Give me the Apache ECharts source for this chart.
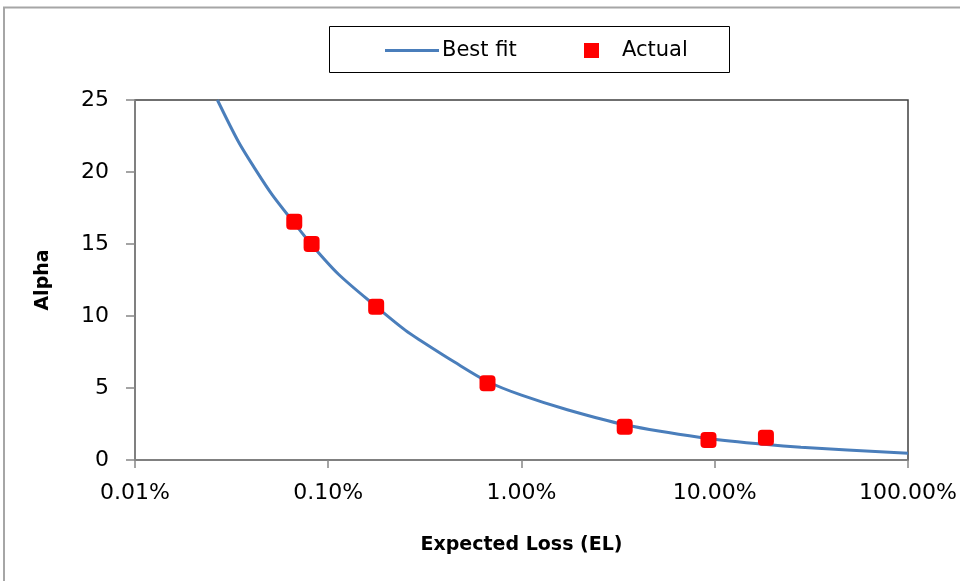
<!DOCTYPE html>
<html>
<head>
<meta charset="utf-8">
<script src="https://cdn.jsdelivr.net/npm/echarts@6/dist/echarts.min.js"></script>
<style>
html,body{margin:0;padding:0;background:#fff;}
#chart{width:960px;height:581px;}
</style>
</head>
<body>
<div id="chart"></div>
<script>
// Best-fit curve
var fitEL    = [0.000267, 0.000343, 0.000419, 0.000511, 0.000667, 0.00082, 0.00113, 0.00179, 0.00251, 0.003, 0.0045, 0.00667, 0.01, 0.01726, 0.0342, 0.0845, 0.18, 0.279, 1.0];
var fitAlpha = [25, 22.1, 20.2, 18.45, 16.45, 14.95, 12.9, 10.6, 9.0, 8.3, 6.8, 5.45, 4.5, 3.49, 2.45, 1.57, 1.09, 0.88, 0.47];
// Actual observations
var actualEL    = [0.000667, 0.00082, 0.00177, 0.00667, 0.0342, 0.0928, 0.184];
var actualAlpha = [16.55, 15.0, 10.65, 5.33, 2.31, 1.39, 1.55];
// Tick labels
var xTickLabels = ['0.01%', '0.10%', '1.00%', '10.00%', '100.00%'];
var yTickLabels = ['0', '5', '10', '15', '20', '25'];
var seriesNames = ['Best fit', 'Actual'];

var FONT = '"DejaVu Sans", "Liberation Sans", sans-serif';

function pairs(xs, ys) { return xs.map(function (x, i) { return [x, ys[i]]; }); }

var chart = echarts.init(document.getElementById('chart'), null, {renderer: 'canvas'});
chart.setOption({
  backgroundColor: '#ffffff',
  animation: false,
  graphic: [
    { type: 'polyline', shape: { points: [[4, 600], [4, 7.5], [960, 7.5]] },
      style: { fill: 'none', stroke: '#a6a6a6', lineWidth: 2 }, z: -1 },
    { type: 'rect', left: 329, top: 26, shape: { width: 400, height: 46 },
      style: { fill: '#fff', stroke: '#000', lineWidth: 1 }, z: 0 }
  ],
  legend: [
    { data: [{ name: seriesNames[0], icon: 'rect' }], left: 380, top: 35, itemWidth: 54, itemHeight: 3, itemGap: 0,
      textStyle: { fontFamily: FONT, fontSize: 21, color: '#000', padding: [0, 0, 0, -2] }, z: 5 },
    { data: [{ name: seriesNames[1], icon: 'rect' }], left: 579, top: 35, itemWidth: 15, itemHeight: 15, itemGap: 0,
      textStyle: { fontFamily: FONT, fontSize: 21, color: '#000', padding: [0, 0, 0, 18] }, z: 5 }
  ],
  grid: { left: 135, right: 52, top: 100, bottom: 121, show: true, borderColor: '#404040', borderWidth: 1.5, backgroundColor: 'transparent' },
  xAxis: {
    type: 'log', logBase: 10, min: 0.0001, max: 1,
    name: 'Expected Loss (EL)', nameLocation: 'middle', nameGap: 76,
    nameTextStyle: { fontFamily: FONT, fontSize: 19, fontWeight: 'bold', color: '#000' },
    axisLine: { show: true, lineStyle: { color: '#868686', width: 1.5 } },
    axisTick: { show: true, length: 8, lineStyle: { color: '#868686', width: 1.5 } },
    splitLine: { show: false },
    axisLabel: { fontFamily: FONT, fontSize: 22, color: '#000', margin: 22,
      formatter: function (v) { var k = Math.round(Math.log10(v)) + 4; return xTickLabels[k] || ''; } }
  },
  yAxis: {
    type: 'value', min: 0, max: 25, interval: 5,
    name: 'Alpha', nameLocation: 'middle', nameGap: 82,
    nameTextStyle: { fontFamily: FONT, fontSize: 19, fontWeight: 'bold', color: '#000' },
    axisLine: { show: true, lineStyle: { color: '#868686', width: 1.5 } },
    axisTick: { show: true, length: 9, lineStyle: { color: '#868686', width: 1.5 } },
    splitLine: { show: false },
    axisLabel: { fontFamily: FONT, fontSize: 22, color: '#000', margin: 26,
      formatter: function (v) { return yTickLabels[Math.round(v / 5)]; } }
  },
  series: [
    { name: seriesNames[0], type: 'line', data: pairs(fitEL, fitAlpha), symbol: 'none',
      smooth: 0.3, clip: true,
      lineStyle: { color: '#4a7ebb', width: 3 }, itemStyle: { color: '#4a7ebb' }, z: 2 },
    { name: seriesNames[1], type: 'scatter', data: pairs(actualEL, actualAlpha), symbol: 'roundRect', symbolSize: 16,
      itemStyle: { color: '#ff0000', opacity: 1 }, z: 3 }
  ]
});
</script>
</body>
</html>
